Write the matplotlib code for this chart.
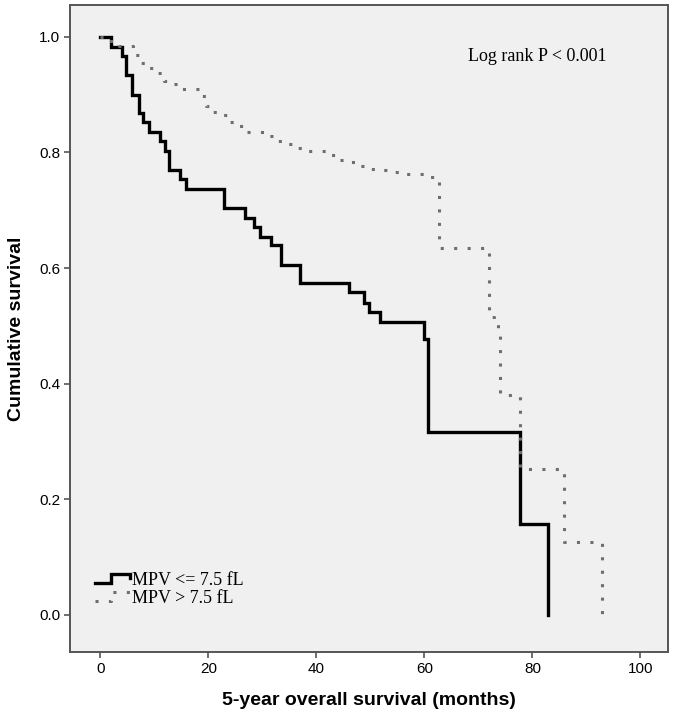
import numpy as np
import matplotlib
matplotlib.use("Agg")
import matplotlib.pyplot as plt
from matplotlib.lines import Line2D
from matplotlib.legend_handler import HandlerBase

# Kaplan-Meier steps (time in months, survival after drop)
low_t = [0, 2.0, 4.0, 4.8, 5.9, 7.1, 7.9, 9.0, 11.1, 11.9, 12.8, 14.8, 15.9, 23.0,
         26.8, 28.5, 29.6, 31.6, 33.5, 36.9, 46.0, 48.8, 49.8, 51.8, 59.9, 60.7,
         77.7, 82.8]
low_s = [1.0, 0.983, 0.966, 0.934, 0.900, 0.868, 0.853, 0.836, 0.819, 0.802, 0.770,
         0.754, 0.736, 0.704, 0.686, 0.671, 0.654, 0.640, 0.606, 0.575, 0.558, 0.540,
         0.524, 0.507, 0.478, 0.316, 0.157, 0.0]

high_t = [0, 1.5, 3.5, 6.0, 7.5, 9.0, 10.5, 11.8, 13.5, 15.0, 18.5, 19.5, 20.5, 22.0,
          23.5, 25.5, 26.8, 31.0, 32.5, 34.5, 36.0, 38.0, 42.0, 43.8, 45.5, 47.5,
          49.5, 52.0, 54.0, 56.0, 60.5, 62.8, 71.9, 72.8, 73.6, 74.0, 77.7, 85.8, 92.8]
high_s = [1.0, 0.992, 0.984, 0.968, 0.955, 0.946, 0.938, 0.924, 0.918, 0.910, 0.897,
          0.881, 0.870, 0.864, 0.853, 0.846, 0.836, 0.828, 0.820, 0.815, 0.808, 0.803,
          0.796, 0.787, 0.783, 0.776, 0.771, 0.769, 0.766, 0.763, 0.758, 0.634, 0.516,
          0.506, 0.490, 0.380, 0.253, 0.126, 0.0]

labels = ["MPV <= 7.5 fL", "MPV > 7.5 fL"]
xticks = [0, 20, 40, 60, 80, 100]
yticks = [0.0, 0.2, 0.4, 0.6, 0.8, 1.0]

frame_col = "#555555"
dot_col = "#6e6e6e"


# legend handle drawn as a little step, like SPSS does
class StepHandler(HandlerBase):
    def create_artists(self, legend, orig_handle, xdescent, ydescent,
                       width, height, fontsize, trans):
        xs = np.array([0, 0.45, 0.45, 1.0, 1.0]) * width - xdescent
        ys = np.array([0.15, 0.15, 0.85, 0.85, 0.55]) * height - ydescent
        ln = Line2D(xs, ys)
        ln.update_from(orig_handle)
        ln.set_transform(trans)
        return [ln]


fig = plt.figure(figsize=(6.75, 7.19), dpi=100)
ax = fig.add_axes([70 / 675, 1 - 652 / 719, 598 / 675, 647 / 719])
ax.set_facecolor("#f0f0f0")

l1, = ax.step(low_t, low_s, where="post", color="black", lw=2.4,
              solid_joinstyle="miter")
l2, = ax.step(high_t, high_s, where="post", color=dot_col, lw=2.2,
              linestyle=(0, (1, 3.4)))

ax.set_xlim(-5.6, 105.1)
ax.set_ylim(-0.064, 1.055)
ax.set_xticks(xticks)
ax.set_yticks(yticks)
ax.set_yticklabels(["%.1f" % v for v in yticks])

for sp in ax.spines.values():
    sp.set_color(frame_col)
    sp.set_linewidth(1.4)
ax.tick_params(direction="out", length=4, width=1.2, color=frame_col,
               labelsize=11, labelcolor="black", pad=3)
for lab in ax.get_xticklabels() + ax.get_yticklabels():
    lab.set_family("Liberation Sans")

ax.set_xlabel("5-year overall survival (months)", fontsize=14, fontweight="bold",
              family="Liberation Sans", labelpad=12)
ax.set_ylabel("Cumulative survival", fontsize=14, fontweight="bold",
              family="Liberation Sans", labelpad=10)

ax.text(68.0, 0.966, "Log rank P < 0.001", fontsize=13, family="Liberation Serif",
        ha="left", va="center")

ax.legend([l1, l2], labels, handler_map={Line2D: StepHandler()},
          loc="lower left", bbox_to_anchor=(0.042, 0.07), frameon=False,
          borderpad=0, borderaxespad=0, handlelength=1.95, handletextpad=0.1,
          labelspacing=0.05, prop={"family": "Liberation Serif", "size": 13})

fig.savefig("out.png", dpi=100)
